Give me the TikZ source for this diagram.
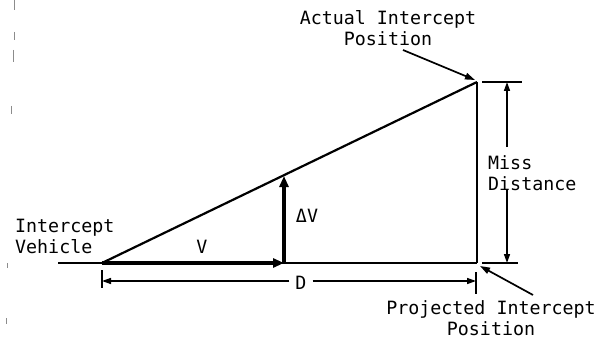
\documentclass[tikz,border=0pt]{standalone}
\usepackage{fontspec}
\setmonofont{DejaVu Sans Mono}
\usetikzlibrary{arrows.meta}
\begin{document}
\begin{tikzpicture}[x=1pt,y=-1pt,
  lbl/.style={font=\ttfamily\fontsize{18.3}{21}\selectfont,inner sep=0pt},
  thinln/.style={line width=1.6pt},
  hypo/.style={line width=2.2pt},
  vec/.style={line width=4.5pt,-{Triangle[length=11pt,width=9pt]}},
  dimarrow/.style={line width=1.5pt,-{Triangle[length=9pt,width=6pt]}},
  ptr/.style={line width=1.7pt,-{Triangle[length=10pt,width=6.5pt]}},
  scan/.style={line width=0.6pt,black!45}]
\useasboundingbox (0,0) rectangle (609,339);
% key points
\coordinate (lineL) at (58,263);
\coordinate (veh) at (102,263);
\coordinate (dv) at (284,263);
\coordinate (dvtip) at (284,176);
\coordinate (act) at (477,82);
\coordinate (proj) at (477,263);
% base line, hypotenuse, miss line
\draw[thinln] (lineL) -- (proj);
\draw[hypo] (veh) -- (act);
\draw[thinln] (act) -- (proj);
% vectors
\draw[vec] (veh) -- (dv);
\draw[vec] (dv) -- (dvtip);
\node[lbl] (Vlab) at (202,247) {V};
\node[lbl] (dVlab) at (307,216) {ΔV};
% labels (base anchor = baseline of the last line)
\node[lbl,anchor=base west,align=left] (veh lab) at (15,253) {Intercept\\Vehicle};
\node[lbl,anchor=base,align=center] (act lab) at (388,46) {Actual Intercept\\Position};
\node[lbl,anchor=base,align=center] (proj lab) at (491,335) {Projected Intercept\\Position};
\node[lbl,anchor=base west,align=left] (miss lab) at (488,190) {Miss\\Distance};
% pointer arrows
\coordinate (actfrom) at (403,50);
\coordinate (actto) at (475,80);
\coordinate (projfrom) at (533,295);
\coordinate (projto) at (480,266);
\draw[ptr] (actfrom) -- (actto);
\draw[ptr] (projfrom) -- (projto);
% miss distance dimension
\coordinate (mt1) at (482,82); \coordinate (mt2) at (522,82);
\coordinate (mb1) at (482,263); \coordinate (mb2) at (518,263);
\draw[thinln] (mt1) -- (mt2);
\draw[thinln] (mb1) -- (mb2);
\coordinate (mup) at (507,147); \coordinate (mtop) at (507,82);
\coordinate (mdn) at (507,189); \coordinate (mbot) at (507,263);
\draw[dimarrow] (mup) -- (mtop);
\draw[dimarrow] (mdn) -- (mbot);
% D dimension
\coordinate (dl1) at (102,270); \coordinate (dl2) at (102,288);
\coordinate (dr1) at (476,272); \coordinate (dr2) at (476,294);
\draw[line width=2.2pt] (dl1) -- (dl2);
\draw[thinln] (dr1) -- (dr2);
\node[lbl,inner xsep=6pt] (Dlab) at (301,283) {D};
\coordinate (dleft) at (102,281);
\coordinate (dright) at (476,281);
\draw[dimarrow] (Dlab.west |- dleft) -- (dleft);
\draw[dimarrow] (Dlab.east |- dright) -- (dright);
% scan marks at the left edge
\draw[scan] (14,0) -- (14,10);
\draw[scan] (14,32) -- (14,40);
\draw[scan] (13,50) -- (13,62);
\draw[scan] (11,106) -- (11,114);
\draw[scan] (7,263) -- (7,268);
\draw[scan] (6,318) -- (6,324);
\end{tikzpicture}
\end{document}
